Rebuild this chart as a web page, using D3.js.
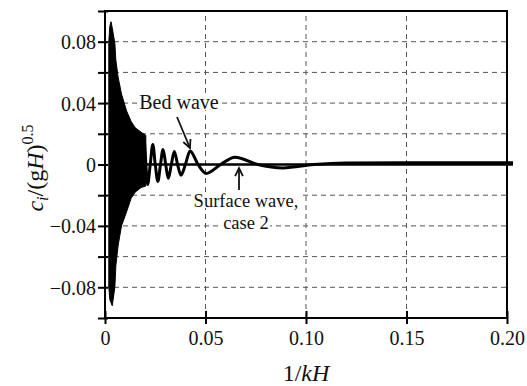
<!DOCTYPE html>
<html><head><meta charset="utf-8">
<script src="https://cdn.jsdelivr.net/npm/d3@7"></script>
<style>
html,body{margin:0;padding:0;background:#fff;}
svg text{font-family:"Liberation Serif",serif !important;fill:#111;}
</style></head>
<body>
<svg id="chart" width="527" height="386"></svg>
<script>
// ---- data ----
const xTicks = [0, 0.05, 0.10, 0.15, 0.20];
const xTickLabels = ["0", "0.05", "0.10", "0.15", "0.20"];
const yTicks = [-0.1, -0.08, -0.06, -0.04, -0.02, 0, 0.02, 0.04, 0.06, 0.08, 0.1];
const yLabeled = [-0.08, -0.04, 0, 0.04, 0.08];
const yTickLabels = ["\u22120.08", "\u22120.04", "0", "0.04", "0.08"];
const xGrid = [0.05, 0.10, 0.15];
const yGrid = [-0.08, -0.06, -0.04, -0.02, 0.02, 0.04, 0.06, 0.08];

// dense (unresolved) part of bed wave: envelope
const envX     = [0.0019, 0.0024, 0.0030, 0.0036, 0.0049, 0.0054, 0.0065, 0.0082, 0.0107, 0.0130, 0.0150, 0.0180, 0.0203];
const envUpper = [0.080, 0.090, 0.093, 0.089, 0.079, 0.068, 0.057, 0.046, 0.035, 0.028, 0.024, 0.021, 0.019];
const envLower = [-0.080, -0.088, -0.090, -0.092, -0.080, -0.066, -0.053, -0.040, -0.031, -0.022, -0.018, -0.015, -0.014];

// resolved part of bed wave
const bedX = [0.0185, 0.0193, 0.0212, 0.0225, 0.0238, 0.0250, 0.0263, 0.0276, 0.0289, 0.0302, 0.0315, 0.0330, 0.0345, 0.0361, 0.0378, 0.0400, 0.0423, 0.0463, 0.0503, 0.0575, 0.0647, 0.0760, 0.0886, 0.1040, 0.1200, 0.1500, 0.2030];
const bedY = [0, 0.017, -0.013, 0, 0.013, 0, -0.011, 0, 0.0098, 0, -0.009, 0, 0.0085, 0, -0.007, 0, 0.0088, 0, -0.0058, 0, 0.0048, 0, -0.0022, 0, 0.0010, 0.0012, 0.0012];

// surface wave, case 2
const surfX = [0.0020, 0.2030];
const surfY = [0, 0];

// ---- chart ----
const FONT = "'Liberation Serif', 'Times New Roman', serif";
const svg = d3.select("#chart");
const x = d3.scaleLinear().domain([0, 0.2]).range([105, 507]);
const y = d3.scaleLinear().domain([-0.1, 0.1]).range([318, 11]);

// grid
svg.append("g").selectAll("line").data(yGrid).join("line")
  .attr("x1", x(0)).attr("x2", x(0.2))
  .attr("y1", d => y(d)).attr("y2", d => y(d))
  .attr("stroke", "#555").attr("stroke-width", 1).attr("stroke-dasharray", "5,4");
svg.append("g").selectAll("line").data(xGrid).join("line")
  .attr("x1", d => x(d)).attr("x2", d => x(d))
  .attr("y1", y(-0.1)).attr("y2", y(0.1))
  .attr("stroke", "#555").attr("stroke-width", 1).attr("stroke-dasharray", "5,4");

// annotations text with white background
function label(lines, cx, baseline, lh, fs) {
  const g = svg.append("g");
  lines.forEach((s, i) => {
    const t = g.append("text").attr("font-size", fs).attr("text-anchor", "middle")
      .style("font-family", FONT).attr("x", cx).attr("y", baseline + i * lh).text(s);
    const bb = t.node().getBBox();
    g.insert("rect", "text").attr("x", bb.x - 1).attr("y", bb.y + 3)
      .attr("width", bb.width + 2).attr("height", bb.height - 6).attr("fill", "#fff");
  });
}
label(["Bed wave"], 179, 109, 0, 20);
label(["Surface wave,", "case 2"], 246, 207, 21.5, 18.5);

// dense envelope
const area = d3.area().x((d, i) => x(envX[i])).y0((d, i) => y(envLower[i])).y1((d, i) => y(envUpper[i]));
svg.append("path").datum(envX).attr("d", area).attr("fill", "#000").attr("stroke", "#000").attr("stroke-width", 1);

// lines
const line = d3.line().curve(d3.curveMonotoneX);
svg.append("path")
  .attr("d", line(surfX.map((v, i) => [x(v), y(surfY[i])])))
  .attr("fill", "none").attr("stroke", "#000").attr("stroke-width", 2.5);
svg.append("path")
  .attr("d", line(bedX.map((v, i) => [x(v), y(bedY[i])])))
  .attr("fill", "none").attr("stroke", "#000").attr("stroke-width", 3);

// arrows
function arrow(x1, y1, x2, y2) {
  svg.append("line").attr("x1", x1).attr("y1", y1).attr("x2", x2).attr("y2", y2)
    .attr("stroke", "#111").attr("stroke-width", 1.8);
  const a = Math.atan2(y2 - y1, x2 - x1), L = 9, w = 0.45;
  const p = (ang) => [x2 - L * Math.cos(ang), y2 - L * Math.sin(ang)];
  const pa = p(a - w), pb = p(a + w);
  svg.append("path").attr("d", `M${pa[0]},${pa[1]}L${x2},${y2}L${pb[0]},${pb[1]}`)
    .attr("fill", "none").attr("stroke", "#111").attr("stroke-width", 1.8);
}
arrow(177, 117, 190, 148);
arrow(239, 190, 239, 168);

// frame
svg.append("rect").attr("x", x(0)).attr("y", y(0.1)).attr("width", x(0.2) - x(0)).attr("height", y(-0.1) - y(0.1))
  .attr("fill", "none").attr("stroke", "#000").attr("stroke-width", 2);

// y axis
const yAx = svg.append("g").attr("transform", `translate(${x(0)},0)`)
  .call(d3.axisLeft(y).tickValues(yTicks).tickSizeOuter(0).tickSize(7)
    .tickFormat(d => { const k = yLabeled.findIndex(v => Math.abs(v - d) < 1e-9); return k >= 0 ? yTickLabels[k] : ""; }));
yAx.attr("font-family", null);
yAx.select(".domain").remove();
yAx.selectAll(".tick line").attr("x1", 3).attr("stroke", "#000").attr("stroke-width", 2);
yAx.selectAll(".tick text").attr("font-size", 20).attr("x", -9).attr("dy", "0.35em")
  .style("font-family", FONT).attr("fill", "#111");

// x axis
const xAx = svg.append("g").attr("transform", `translate(0,${y(-0.1)})`)
  .call(d3.axisBottom(x).tickValues(xTicks).tickSizeOuter(0).tickSize(6)
    .tickFormat((d, i) => xTickLabels[i]));
xAx.attr("font-family", null);
xAx.select(".domain").remove();
xAx.selectAll(".tick line").attr("y1", -7).attr("stroke", "#000").attr("stroke-width", 2);
xAx.selectAll(".tick text").attr("font-size", 20).attr("y", 13)
  .style("font-family", FONT).attr("fill", "#111");

// axis titles
const xt = svg.append("text").attr("x", 306).attr("y", 381).attr("font-size", 24).attr("text-anchor", "middle").style("font-family", FONT);
xt.append("tspan").text("1/");
xt.append("tspan").attr("font-style", "italic").text("kH");

const yt = svg.append("text").attr("transform", "translate(43,168) rotate(-90)").attr("font-size", 24).attr("text-anchor", "middle").style("font-family", FONT);
yt.append("tspan").attr("font-style", "italic").text("c");
yt.append("tspan").attr("font-style", "italic").attr("font-size", 16).attr("dy", 5).text("i");
yt.append("tspan").attr("dy", -5).text("/(g");
yt.append("tspan").attr("font-style", "italic").text("H");
yt.append("tspan").text(")");
yt.append("tspan").attr("font-size", 16).attr("dy", -10).text("0.5");
</script>
</body></html>
